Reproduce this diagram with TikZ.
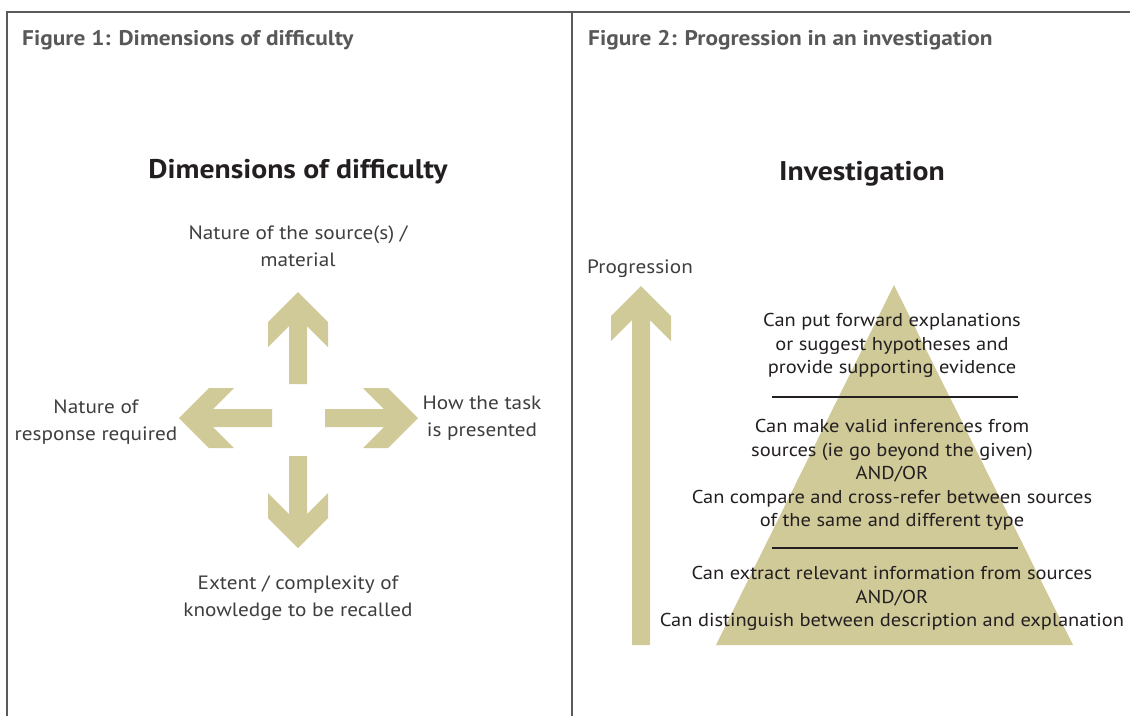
\documentclass[tikz,border=0pt]{standalone}
\usepackage{fontspec}
\setmainfont{PT Sans}[FakeStretch=1.1]

\definecolor{khaki}{RGB}{208,201,152}
\definecolor{framegray}{RGB}{90,90,90}
\definecolor{headgray}{RGB}{88,88,88}
\definecolor{softink}{RGB}{62,62,62}
\definecolor{ink}{RGB}{35,31,32}

% block arrow: tail point, angle, length
\newcommand{\fatarrow}[3]{%
  \fill[khaki,shift={#1},rotate=#2]
    (0,-9) -- (#3-34,-9) -- (#3-55,-30) -- (#3-30,-30) -- (#3,0)
    -- (#3-30,30) -- (#3-55,30) -- (#3-34,9) -- (0,9) -- cycle;}

\tikzset{
    heading/.style={anchor=base west,inner sep=0pt,text=headgray,
        font=\fontsize{21.2}{25}\selectfont\bfseries},
    bigtitle/.style={anchor=base,inner sep=0pt,text=ink,
        font=\fontsize{27}{32}\selectfont\bfseries},
    dimlabel/.style={align=center,inner sep=0pt,text=softink,
        font=\fontsize{19.3}{27}\selectfont},
    stage/.style={align=center,inner sep=0pt,text=ink,
        font=\fontsize{18.6}{23.5}\selectfont},
    frame/.style={draw=framegray,line width=1.2pt},
    divider/.style={draw=ink,line width=1.3pt}
}

\begin{document}
\begin{tikzpicture}[x=1pt,y=-1pt]
    \useasboundingbox (0,0) rectangle (1130,716);

    % frame
    \draw[frame] (7,716) -- (7,12) -- (1130,12);
    \draw[frame] (572,12) -- (572,716);

    \node[heading] (head1) at (22,45) {Figure 1: Dimensions of difficulty};
    \node[heading] (head2) at (588,45) {Figure 2: Progression in an investigation};

    % left figure
    \node[bigtitle] (dimtitle) at (298,178) {Dimensions of difficulty};

    \fatarrow{(298,384)}{90}{92}
    \fatarrow{(298,456)}{-90}{92}
    \fatarrow{(272,418)}{180}{93}
    \fatarrow{(325,418)}{0}{93}

    \node[dimlabel] (source) at (298,246) {Nature of the source(s) /\\material};
    \node[dimlabel] (response) at (96,422) {Nature of\\response required};
    \node[dimlabel] (task) at (482,418) {How the task\\is presented};
    \node[dimlabel] (extent) at (298,598) {Extent / complexity of\\knowledge to be recalled};

    % right figure
    \node[bigtitle] (invtitle) at (862,180) {Investigation};
    \node[dimlabel,anchor=base west] (progress) at (587,273) {Progression};

    \fatarrow{(641,645)}{90}{359}

    \coordinate (apex) at (894,285);
    \coordinate (baseleft) at (716,645);
    \coordinate (baseright) at (1073,645);
    \fill[khaki] (apex) -- (baseright) -- (baseleft) -- cycle;

    \draw[divider] (772,397) -- (1018,397);
    \draw[divider] (772,548) -- (1018,548);

    \node[stage] (explain) at (892,345.5)
        {Can put forward explanations\\or suggest hypotheses and\\provide supporting evidence};
    \node[stage] (infer) at (892,475)
        {Can make valid inferences from\\sources (ie go beyond the given)\\AND/OR\\Can compare and cross-refer between sources\\of the same and different type};
    \node[stage] (extract) at (892,598.5)
        {Can extract relevant information from sources\\AND/OR\\Can distinguish between description and explanation};
\end{tikzpicture}
\end{document}
